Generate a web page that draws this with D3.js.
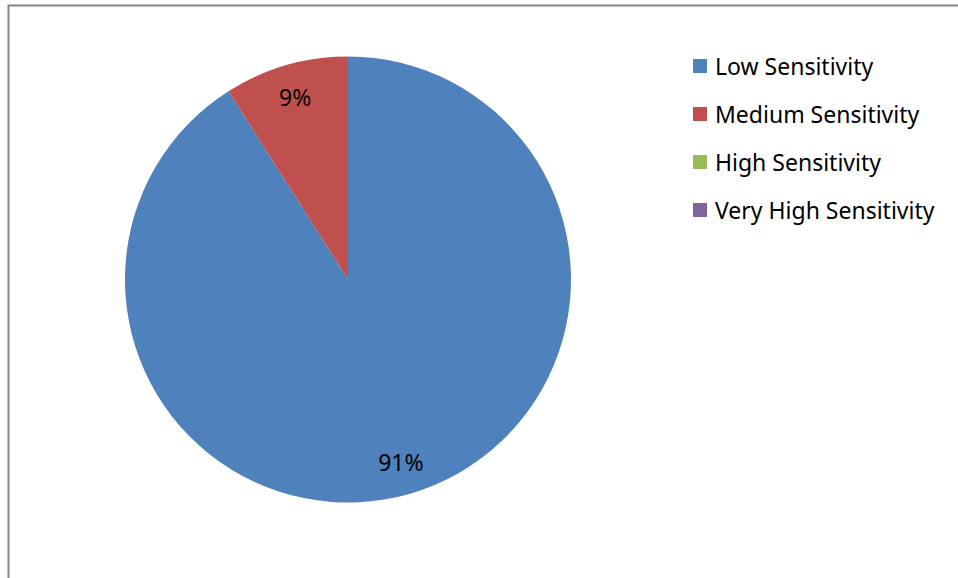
<!DOCTYPE html>
<html>
<head>
<meta charset="utf-8">
<script src="https://cdn.jsdelivr.net/npm/d3@7"></script>
<style>
  html, body { margin: 0; padding: 0; background: #fff; }
  svg { display: block; }
  text { font-family: "Noto Sans", "Open Sans", sans-serif; fill: #000; }
</style>
</head>
<body>
<svg id="chart" width="958" height="578"></svg>
<script>
// Share of records by sensitivity level
const categories = ["Low Sensitivity", "Medium Sensitivity", "High Sensitivity", "Very High Sensitivity"];
const values = [91, 9, 0, 0];
const colors = ["#4F81BD", "#C0504D", "#9BBB59", "#8064A2"];

const svg = d3.select("#chart");
const W = 958, H = 578;

// chart frame (runs off the right and bottom of the page)
svg.append("rect")
  .attr("x", 8.5).attr("y", 5.5)
  .attr("width", W + 20).attr("height", H + 20)
  .attr("fill", "#fff")
  .attr("stroke", "#868686")
  .attr("stroke-width", 2);

const cx = 348, cy = 279.5, r = 223;

const data = categories.map((c, i) => ({ name: c, value: values[i], color: colors[i] }));

const pie = d3.pie().value(d => d.value).sort(null);
const arc = d3.arc().innerRadius(0).outerRadius(r);
const labelArc = d3.arc().innerRadius(r * 0.85).outerRadius(r * 0.85);

const g = svg.append("g").attr("transform", `translate(${cx},${cy})`);
const arcs = pie(data);

g.selectAll("path.slice")
  .data(arcs.filter(d => d.value > 0))
  .join("path")
  .attr("class", "slice")
  .attr("d", arc)
  .attr("fill", d => d.data.color);

const total = d3.sum(values);
g.selectAll("text.pct")
  .data(arcs.filter(d => d.value > 0))
  .join("text")
  .attr("class", "pct")
  .attr("transform", d => `translate(${labelArc.centroid(d)})`)
  .attr("text-anchor", "middle")
  .attr("dominant-baseline", "central")
  .attr("font-size", 23)
  .text(d => Math.round(d.value / total * 100) + "%");

// legend
const legend = svg.append("g").attr("transform", "translate(693,66)");
const rowY = d3.scalePoint().domain(categories).range([0, 144]);
const item = legend.selectAll("g.item")
  .data(data)
  .join("g")
  .attr("class", "item")
  .attr("transform", d => `translate(0,${rowY(d.name)})`);
item.append("rect")
  .attr("x", 0).attr("y", -7)
  .attr("width", 14).attr("height", 14)
  .attr("fill", d => d.color);
item.append("text")
  .attr("x", 22).attr("y", 0)
  .attr("dominant-baseline", "central")
  .attr("font-size", 23)
  .text(d => d.name);
</script>
</body>
</html>
